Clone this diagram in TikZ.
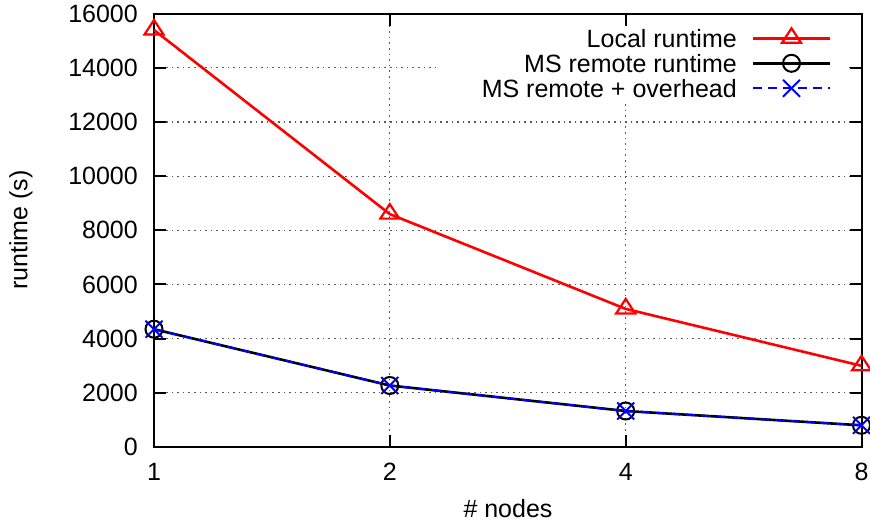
\documentclass[tikz,border=0pt]{standalone}
\usepackage{fontspec}
\setmainfont{Liberation Sans}
\begin{document}
\begin{tikzpicture}[x=1pt,y=-1pt,
  gridline/.style={black!65,line width=1.1pt,dash pattern=on 1.6pt off 4pt},
  frameline/.style={black,line width=2pt},
  ticklab/.style={font=\fontsize{25}{29}\selectfont,inner sep=0pt},
  localline/.style={red,line width=2.6pt,line join=round},
  remoteline/.style={black,line width=2.6pt,line join=round},
  ovhline/.style={blue,line width=2pt,dash pattern=on 9pt off 6pt},
  trimark/.style={red,line width=2.2pt,line join=miter},
  circmark/.style={black,line width=2pt},
  xmark/.style={blue,line width=2pt}]
\useasboundingbox (0,0) rectangle (870,524);
\fill[white] (0,0) rectangle (870,524);
% frame coordinates
\coordinate (BL) at (154,447);
\coordinate (TR) at (861.5,13.7);
% grid (horizontal)
\foreach \v in {2000,4000,6000,8000,10000,12000,14000}{
  \draw[gridline] (166,{447-\v*0.027081}) -- (849.5,{447-\v*0.027081});
}
% grid (vertical) at 2 and 4
\foreach \xx in {389.8,625.7}{
  \draw[gridline] (\xx,25.7) -- (\xx,435);
}
% legend box blanking
\fill[white] (437,15) rectangle (848,100);
% ticks
\foreach \v in {2000,4000,6000,8000,10000,12000,14000}{
  \draw[frameline] (154,{447-\v*0.027081}) -- (166,{447-\v*0.027081});
  \draw[frameline] (861.5,{447-\v*0.027081}) -- (849.5,{447-\v*0.027081});
}
\foreach \xx in {389.8,625.7}{
  \draw[frameline] (\xx,447) -- (\xx,435);
  \draw[frameline] (\xx,13.7) -- (\xx,25.7);
}
% frame
\draw[frameline] (BL) rectangle (TR);
% y tick labels
\foreach \v in {0,2000,4000,6000,8000,10000,12000,14000,16000}{
  \node[ticklab,anchor=east] (yl\v) at (138,{447-\v*0.027081}) {\v};
}
% x tick labels
\node[ticklab] (xl1) at (154,472) {1};
\node[ticklab] (xl2) at (389.8,472) {2};
\node[ticklab] (xl4) at (625.7,472) {4};
\node[ticklab] (xl8) at (861.5,472) {8};
% axis labels
\node[ticklab] (xlab) at (508,509) {\# nodes};
\node[ticklab,rotate=90] (ylab) at (21,230) {runtime (s)};
% data coordinates
\coordinate (L1) at (154,30.0);
\coordinate (L2) at (389.8,214.1);
\coordinate (L4) at (625.7,308.9);
\coordinate (L8) at (861.5,365.8);
\coordinate (R1) at (154,329.2);
\coordinate (R2) at (389.8,385.5);
\coordinate (R4) at (625.7,411.0);
\coordinate (R8) at (861.5,425.3);
% local runtime
\draw[localline] (L1) -- (L2) -- (L4) -- (L8);
\foreach \p in {L1,L2,L4,L8}{
  \draw[trimark] ([shift={(-9.5,4.5)}]\p) -- ([shift={(0,-10)}]\p) -- ([shift={(9.5,4.5)}]\p) -- cycle;
}
% remote runtime
\draw[remoteline] (R1) -- (R2) -- (R4) -- (R8);
\foreach \p in {R1,R2,R4,R8}{
  \draw[circmark] (\p) circle (8.5);
}
% remote + overhead
\draw[ovhline] (R1) -- (R2) -- (R4) -- (R8);
\foreach \p in {R1,R2,R4,R8}{
  \draw[xmark] ([shift={(-8.5,-8.5)}]\p) -- ([shift={(8.5,8.5)}]\p);
  \draw[xmark] ([shift={(-8.5,8.5)}]\p) -- ([shift={(8.5,-8.5)}]\p);
}
% legend
\node[ticklab,anchor=east] (lg1) at (737,38.3) {Local runtime};
\node[ticklab,anchor=east] (lg2) at (737,63.3) {MS remote runtime};
\node[ticklab,anchor=east] (lg3) at (737,88.3) {MS remote + overhead};
\coordinate (k1a) at (753,38.3); \coordinate (k1b) at (830,38.3); \coordinate (k1m) at (791.5,38.3);
\coordinate (k2a) at (753,63.3); \coordinate (k2b) at (830,63.3); \coordinate (k2m) at (791.5,63.3);
\coordinate (k3a) at (753,88.3); \coordinate (k3b) at (830,88.3); \coordinate (k3m) at (791.5,88.3);
\draw[localline] (k1a) -- (k1b);
\draw[trimark] ([shift={(-9.5,4.5)}]k1m) -- ([shift={(0,-10)}]k1m) -- ([shift={(9.5,4.5)}]k1m) -- cycle;
\draw[remoteline] (k2a) -- (k2b);
\draw[circmark] (k2m) circle (8.5);
\draw[ovhline] (k3a) -- (k3b);
\draw[xmark] ([shift={(-8.5,-8.5)}]k3m) -- ([shift={(8.5,8.5)}]k3m);
\draw[xmark] ([shift={(-8.5,8.5)}]k3m) -- ([shift={(8.5,-8.5)}]k3m);
\end{tikzpicture}
\end{document}
